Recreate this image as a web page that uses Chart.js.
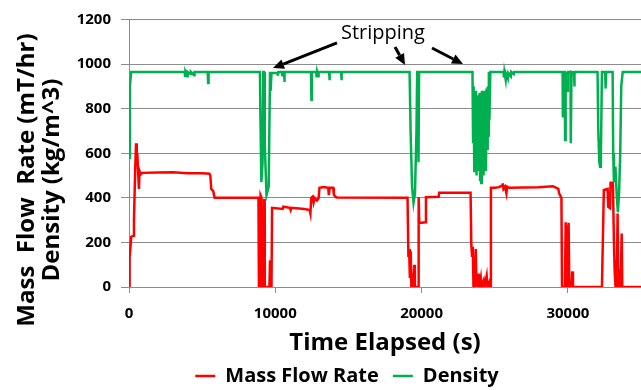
<!DOCTYPE html>
<html>
<head>
<meta charset="utf-8">
<script src="https://cdn.jsdelivr.net/npm/chart.js@4.4.1/dist/chart.umd.min.js"></script>
<style>
  html, body { margin: 0; padding: 0; background: #fff; }
  #wrap { width: 641px; height: 390px; }
</style>
</head>
<body>
<div id="wrap"><canvas id="flowChart" width="641" height="390"></canvas></div>
<script>
// values (time in s)
const flowTime = [0, 40, 100, 150, 300, 340, 420, 480, 530, 570, 620, 680, 720, 800, 900, 2000, 3000, 4000, 5000, 5500,
  5560, 5620, 5760, 5850, 8850, 8880, 8960, 9000, 9060, 9100, 9160, 9200, 9240, 9280, 9600, 9640, 9680, 9740, 9780, 10500,
  10550, 11000, 11050, 11100, 12000, 12350, 12400, 12460, 12550, 12620, 12680, 12850, 12960, 13020, 13300, 13620, 13660, 13720, 13960, 14000,
  14100, 14200, 19040, 19100, 19150, 19200, 19260, 19300, 19380, 19420, 19500, 19540, 19760, 19800, 19840, 20280, 20300, 21170, 21200, 23350,
  23400, 23450, 23500, 23550, 23600, 23650, 23700, 23750, 23850, 23900, 23950, 24050, 24100, 24250, 24300, 24450, 24500, 24650, 24700, 24740,
  25000, 25300, 25500, 25550, 25600, 25700, 25800, 25850, 26000, 28000, 28980, 29350, 29400, 29560, 29600, 29800, 29850, 29900, 29950, 30000,
  30050, 30100, 30250, 30300, 30350, 32330, 32460, 32720, 32760, 32880, 32920, 33080, 33150, 33200, 33260, 33300, 33340, 33400, 33440, 33550,
  33600, 33680, 33720, 33840, 35000];
const flowRate = [0, 130, 180, 225, 230, 300, 520, 645, 560, 600, 520, 440, 520, 505, 512, 514, 515, 510, 510, 508,
  500, 440, 430, 400, 400, 0, 0, 410, 400, 0, 300, 0, 395, 0, 0, 120, 0, 0, 355, 350,
  360, 355, 345, 355, 350, 345, 330, 400, 405, 380, 400, 388, 398, 445, 448, 445, 412, 445, 445, 415,
  405, 402, 400, 135, 170, 40, 160, 0, 60, 0, 100, 0, 0, 403, 287, 290, 403, 405, 423, 423,
  190, 140, 180, 0, 130, 0, 170, 20, 0, 60, 0, 40, 0, 30, 0, 50, 0, 25, 0, 445,
  445, 448, 455, 465, 440, 450, 420, 450, 445, 448, 452, 440, 420, 400, 0, 0, 290, 120, 0, 250,
  288, 0, 0, 70, 0, 0, 435, 440, 360, 354, 468, 468, 200, 70, 0, 120, 0, 330, 0, 80,
  0, 240, 0, 0, 0];

const densityTime = [0, 60, 150, 3800, 3830, 3860, 3980, 4010, 4200, 4230, 4450, 4480, 5380, 5410, 5440, 8950, 8980, 9050, 9130, 9180,
  9230, 9280, 9400, 9550, 9640, 9680, 9740, 10150, 10180, 10210, 10450, 10480, 10510, 10600, 10620, 10650, 12440, 12470, 12500, 12800,
  12830, 12860, 12930, 12960, 13680, 13700, 13730, 14500, 14520, 14550, 19180, 19250, 19350, 19450, 19550, 19650, 19700, 19760, 19790, 19830,
  23480, 23520, 23560, 23600, 23640, 23680, 23720, 23760, 23800, 23840, 23880, 23920, 23960, 24000, 24040, 24080, 24120, 24160, 24200, 24240,
  24280, 24320, 24360, 24400, 24440, 24480, 24520, 24560, 24600, 24640, 24700, 25600, 25630, 25660, 25750, 25780, 25900, 25930, 26100, 26130,
  26300, 26330, 29640, 29660, 29690, 29790, 29810, 29850, 29950, 30000, 30180, 30200, 30250, 30420, 30440, 30470, 32030, 32080, 32150, 32200,
  32260, 32330, 32550, 32580, 32620, 33060, 33100, 33150, 33250, 33350, 33420, 33500, 33580, 33650, 33750, 35000];
const densityValue = [580, 900, 965, 965, 948, 965, 945, 965, 955, 965, 950, 965, 965, 915, 965, 965, 780, 470, 560, 965,
  965, 640, 412, 450, 965, 880, 960, 960, 948, 965, 965, 950, 965, 965, 920, 965, 965, 840, 965, 965,
  940, 965, 945, 965, 965, 928, 965, 965, 928, 965, 965, 700, 450, 378, 420, 700, 965, 965, 560, 965,
  965, 650, 900, 520, 850, 600, 880, 500, 860, 560, 820, 520, 870, 480, 850, 466, 880, 540, 860, 500,
  880, 600, 870, 520, 890, 620, 900, 680, 965, 750, 965, 965, 940, 965, 930, 955, 935, 960, 945, 965,
  955, 965, 965, 760, 965, 965, 660, 965, 880, 965, 965, 645, 965, 960, 900, 965, 965, 700, 560, 540,
  600, 965, 965, 890, 965, 965, 600, 470, 540, 400, 336, 420, 600, 900, 965, 965];

const xTicks = [0, 10000, 20000, 30000];
const yTicks = [0, 200, 400, 600, 800, 1000, 1200];
const seriesNames = ['Mass Flow Rate', 'Density'];
const yTitleLines = ['Mass  Flow  Rate (mT/hr)', 'Density (kg/m^3)'];
const noteLabel = 'Stripping';

const FONT = '"Open Sans", "Liberation Sans", sans-serif';
const GRID = '#8c8c8c';

function toPoints(ts, vs) {
  return ts.map((t, i) => ({ x: t, y: vs[i] }));
}

// y title is centred on the whole picture, not only the plot, so draw it here
const yTitlePlugin = {
  id: 'yTitle',
  afterDraw(chart) {
    const ctx = chart.ctx;
    ctx.save();
    ctx.fillStyle = '#000';
    ctx.font = 'bold 24px ' + FONT;
    ctx.textAlign = 'center';
    ctx.textBaseline = 'middle';
    const xs = [27, 52];
    yTitleLines.forEach((line, i) => {
      ctx.save();
      ctx.translate(xs[i], 180);
      ctx.rotate(-Math.PI / 2);
      ctx.fillText(line, 0, 0);
      ctx.restore();
    });
    ctx.restore();
  }
};

// "Stripping" note with three arrows, placed in data units
const stripPlugin = {
  id: 'strip',
  afterDraw(chart) {
    const { ctx, scales: { x, y } } = chart;
    const tips = [[9843, 982], [18866, 996], [22831, 1000]];
    const tails = [[14218, 1095], [18183, 1077], [20712, 1072]];
    ctx.save();
    ctx.fillStyle = '#000';
    ctx.strokeStyle = '#000';
    ctx.lineWidth = 3;
    ctx.font = '20px ' + FONT;
    ctx.textAlign = 'center';
    ctx.textBaseline = 'middle';
    ctx.fillText(noteLabel, x.getPixelForValue(17363), y.getPixelForValue(1139));
    tips.forEach((tip, i) => {
      const x1 = x.getPixelForValue(tails[i][0]), y1 = y.getPixelForValue(tails[i][1]);
      const x2 = x.getPixelForValue(tip[0]), y2 = y.getPixelForValue(tip[1]);
      const a = Math.atan2(y2 - y1, x2 - x1);
      const len = 11, hw = 5;
      const bx = x2 - len * Math.cos(a), by = y2 - len * Math.sin(a);
      ctx.beginPath();
      ctx.moveTo(x1, y1);
      ctx.lineTo(bx, by);
      ctx.stroke();
      ctx.beginPath();
      ctx.moveTo(x2, y2);
      ctx.lineTo(bx + hw * Math.sin(a), by - hw * Math.cos(a));
      ctx.lineTo(bx - hw * Math.sin(a), by + hw * Math.cos(a));
      ctx.closePath();
      ctx.fill();
    });
    ctx.restore();
  }
};

const ctx = document.getElementById('flowChart').getContext('2d');
new Chart(ctx, {
  type: 'line',
  data: {
    datasets: [{
      label: seriesNames[0],
      data: toPoints(flowTime, flowRate),
      borderColor: '#ff0000',
      backgroundColor: '#ff0000',
      borderWidth: 2.5,
      pointRadius: 0,
      tension: 0,
      order: 1
    }, {
      label: seriesNames[1],
      data: toPoints(densityTime, densityValue),
      borderColor: '#00b050',
      backgroundColor: '#00b050',
      borderWidth: 2.5,
      pointRadius: 0,
      tension: 0,
      order: 0
    }]
  },
  options: {
    responsive: false,
    animation: false,
    // left padding only moves the legend centre; y scale width makes up the rest
    layout: { padding: { top: 19.5, right: 0, bottom: -6, left: 53 } },
    scales: {
      x: {
        type: 'linear',
        min: 0,
        max: 35000,
        afterBuildTicks: s => { s.ticks = xTicks.map(v => ({ value: v })); },
        afterFit: s => { s.height = 65; },
        ticks: {
          autoSkip: false,
          maxRotation: 0,
          padding: 12,
          color: '#000',
          font: { family: FONT, size: 15, weight: 'bold' },
          callback: v => String(v)
        },
        grid: { drawOnChartArea: false, drawTicks: true, tickLength: 6, color: GRID },
        border: { color: GRID },
        title: {
          display: true,
          text: 'Time Elapsed (s)',
          color: '#000',
          padding: { top: 0, bottom: -3 },
          font: { family: FONT, size: 24, weight: 'bold', lineHeight: 1 }
        }
      },
      y: {
        min: 0,
        max: 1200,
        afterBuildTicks: s => { s.ticks = yTicks.map(v => ({ value: v })); },
        afterFit: s => { s.width = 76; },
        ticks: {
          padding: 10,
          color: '#000',
          font: { family: FONT, size: 15, weight: 'bold' },
          callback: v => String(v)
        },
        grid: { color: GRID, tickLength: 8 },
        border: { color: GRID }
      }
    },
    plugins: {
      legend: {
        position: 'bottom',
        labels: {
          usePointStyle: true,
          pointStyle: 'line',
          pointStyleWidth: 20,
          padding: 14,
          color: '#000',
          sort: (a, b) => a.datasetIndex - b.datasetIndex,
          font: { family: FONT, size: 20, weight: 'bold' }
        }
      },
      tooltip: { enabled: false }
    }
  },
  plugins: [yTitlePlugin, stripPlugin]
});
</script>
</body>
</html>
